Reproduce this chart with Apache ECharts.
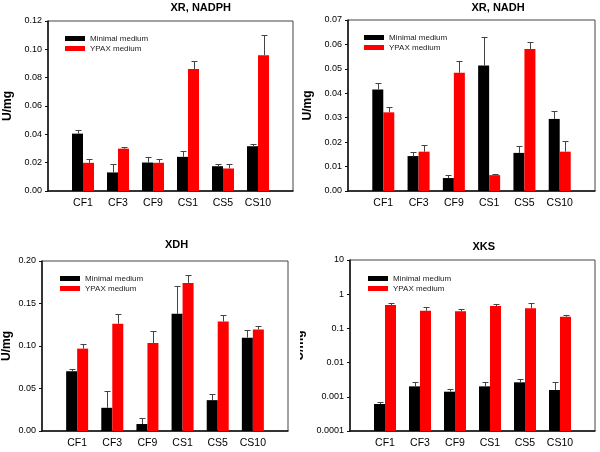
<!DOCTYPE html>
<html><head><meta charset="utf-8">
<script src="https://cdn.jsdelivr.net/npm/echarts@6/dist/echarts.min.js"></script>
<style>html,body{margin:0;padding:0;background:#fff}#c{width:600px;height:452px}</style>
</head><body><div id="c"></div>
<script>
// ---- data ----
const categories = ['CF1', 'CF3', 'CF9', 'CS1', 'CS5', 'CS10'];
const seriesNames = ['Minimal medium', 'YPAX medium'];
const panelTitles = ['XR, NADPH', 'XR, NADH', 'XDH', 'XKS'];
const yAxisTitle = 'U/mg';

// XR, NADPH
const xrNadphMinimal      = [0.0405, 0.0131, 0.0201, 0.0241, 0.0175, 0.0316];
const xrNadphMinimalUpper = [0.0428, 0.0189, 0.0241, 0.0281, 0.0194, 0.0334];
const xrNadphYpax         = [0.0199, 0.0299, 0.0199, 0.0861, 0.0159, 0.0959];
const xrNadphYpaxUpper    = [0.0229, 0.0309, 0.0229, 0.0919, 0.0189, 0.1102];
// XR, NADH
const xrNadhMinimal       = [0.0416, 0.0143, 0.0053, 0.0514, 0.0156, 0.0295];
const xrNadhMinimalUpper  = [0.0441, 0.0161, 0.0064, 0.0629, 0.0184, 0.0327];
const xrNadhYpax          = [0.0322, 0.0161, 0.0484, 0.0065, 0.0581, 0.0161];
const xrNadhYpaxUpper     = [0.0342, 0.0187, 0.0532, 0.0068, 0.0609, 0.0203];
// XDH
const xdhMinimal          = [0.0703, 0.0273, 0.0082, 0.1379, 0.0363, 0.1098];
const xdhMinimalUpper     = [0.0734, 0.0465, 0.0156, 0.1707, 0.0430, 0.1188];
const xdhYpax             = [0.0969, 0.1262, 0.1035, 0.1742, 0.1289, 0.1195];
const xdhYpaxUpper        = [0.1020, 0.1379, 0.1176, 0.1836, 0.1367, 0.1238];
// XKS (log scale)
const xksMinimal          = [0.000615, 0.00202, 0.00141, 0.00202, 0.00265, 0.00158];
const xksMinimalUpper     = [0.000705, 0.0027, 0.00165, 0.00265, 0.00339, 0.0027];
const xksYpax             = [0.483, 0.330, 0.316, 0.452, 0.386, 0.220];
const xksYpaxUpper        = [0.540, 0.413, 0.361, 0.528, 0.553, 0.241];

// axis ranges
const yMin = [0, 0, 0, 0.0001];
const yMax = [0.12, 0.07, 0.20, 10];
const yInterval = [0.02, 0.01, 0.05, null];
const yDecimals = [2, 2, 2, null];

// ---- layout ----
const FONT = 'Liberation Sans, Arial, sans-serif';
const BAR_W = 11;
const grids = [
  {left: 48, top: 21, width: 245, height: 170},
  {left: 348, top: 20, width: 247, height: 171},
  {left: 42, top: 261, width: 246, height: 170},
  {left: 350, top: 260, width: 245, height: 171}
];
const titlePos = [[170.5, 2.5], [471.5, 2], [165, 239.5], [472.5, 241]];
const legendPos = [[65, 34.5], [364, 33.5], [60, 274.5], [368, 274.5]];
const nameGaps = [34, 34, 29, 44];

const panelData = [
  [xrNadphMinimal, xrNadphMinimalUpper, xrNadphYpax, xrNadphYpaxUpper],
  [xrNadhMinimal, xrNadhMinimalUpper, xrNadhYpax, xrNadhYpaxUpper],
  [xdhMinimal, xdhMinimalUpper, xdhYpax, xdhYpaxUpper],
  [xksMinimal, xksMinimalUpper, xksYpax, xksYpaxUpper]
];
const colors = ['#000000', '#ff0000'];
const axisCats = [''].concat(categories, ['']);

function barRender(side, baseVal) {
  return function (params, api) {
    const x = api.value(0), v = api.value(1);
    const p = api.coord([x, v]);
    const b = api.coord([x, baseVal]);
    const x0 = side < 0 ? p[0] - BAR_W : p[0];
    return {
      type: 'rect',
      shape: {x: x0, y: p[1], width: BAR_W, height: b[1] - p[1]},
      style: {fill: api.visual('color')}
    };
  };
}
function errRender(side) {
  return function (params, api) {
    const x = api.value(0), v = api.value(1), u = api.value(2);
    const p = api.coord([x, v]);
    const q = api.coord([x, u]);
    const cx = Math.round(p[0] + side * BAR_W / 2) + 0.5;
    const ty = Math.round(q[1]) + 0.5;
    return {
      type: 'group',
      children: [
        {type: 'line', shape: {x1: cx, y1: p[1], x2: cx, y2: ty}, style: {stroke: '#444', lineWidth: 1}},
        {type: 'line', shape: {x1: cx - 3, y1: ty, x2: cx + 3, y2: ty}, style: {stroke: '#444', lineWidth: 1}}
      ]
    };
  };
}

const option = {
  animation: false,
  backgroundColor: '#fff',
  textStyle: {fontFamily: FONT},
  title: panelTitles.map((t, i) => ({
    text: t, left: titlePos[i][0], top: titlePos[i][1], textAlign: 'left', padding: 0,
    textStyle: {fontSize: 11, fontWeight: 'bold', color: '#000', fontFamily: FONT, align: 'center'}
  })),
  legend: legendPos.map((p, i) => ({
    left: p[0], top: p[1], orient: 'vertical', padding: 0, itemGap: 2,
    itemWidth: 20, itemHeight: 5, selectedMode: false, icon: 'rect',
    textStyle: {fontSize: 8, lineHeight: 8, color: '#222', fontFamily: FONT},
    data: seriesNames.map((n, k) => ({name: n, itemStyle: {color: colors[k]}}))
  })),
  grid: grids.map(g => Object.assign({show: true, borderColor: '#444', borderWidth: 1, backgroundColor: 'transparent'}, g)),
  xAxis: grids.map((g, i) => ({
    type: 'category', gridIndex: i, data: axisCats, boundaryGap: false,
    axisLine: {lineStyle: {color: '#111', width: 1.5}},
    axisTick: {show: false},
    axisLabel: {interval: 0, fontSize: 10.5, color: '#000', margin: 7, fontFamily: FONT},
    splitLine: {show: false}
  })),
  yAxis: grids.map((g, i) => {
    const base = {
      gridIndex: i, min: yMin[i], max: yMax[i],
      name: yAxisTitle, nameLocation: 'middle', nameGap: nameGaps[i],
      nameTextStyle: {fontSize: 12, fontWeight: 'bold', color: '#000', fontFamily: FONT},
      axisLine: {show: true, lineStyle: {color: '#111', width: 1.5}},
      axisTick: {show: true, inside: false, length: 3, lineStyle: {color: '#111'}},
      splitLine: {show: false},
      axisLabel: {fontSize: 9, color: '#000', margin: 6, fontFamily: FONT}
    };
    if (yInterval[i] == null) {
      base.type = 'log'; base.logBase = 10;
      base.axisLabel.formatter = v => String(+(+v).toPrecision(6));
    } else {
      base.type = 'value'; base.interval = yInterval[i];
      base.axisLabel.formatter = v => (+v).toFixed(yDecimals[i]);
    }
    return base;
  }),
  // the lower-right panel's axis title is cut off at the panel edge in the original figure
  graphic: [{
    type: 'rect', left: 289.5, top: 300, z: 100, silent: true,
    shape: {width: 10.5, height: 70}, style: {fill: '#fff'}
  }],
  series: []
};

panelData.forEach((d, i) => {
  [0, 1].forEach(k => {
    const vals = d[k * 2], up = d[k * 2 + 1];
    const data = categories.map((c, j) => [j + 1, vals[j], up[j]]);
    const side = k === 0 ? -1 : 1;
    option.series.push({
      type: 'custom', name: seriesNames[k], xAxisIndex: i, yAxisIndex: i,
      itemStyle: {color: colors[k]}, renderItem: barRender(side, yMin[i]),
      encode: {x: 0, y: 1}, data: data, silent: true, z: 2
    });
    option.series.push({
      type: 'custom', name: seriesNames[k] + ' error', xAxisIndex: i, yAxisIndex: i,
      renderItem: errRender(side), encode: {x: 0, y: [1, 2]}, data: data, silent: true, z: 3
    });
  });
});

const chart = echarts.init(document.getElementById('c'), null, {renderer: 'canvas'});
chart.setOption(option);
</script>
</body></html>
